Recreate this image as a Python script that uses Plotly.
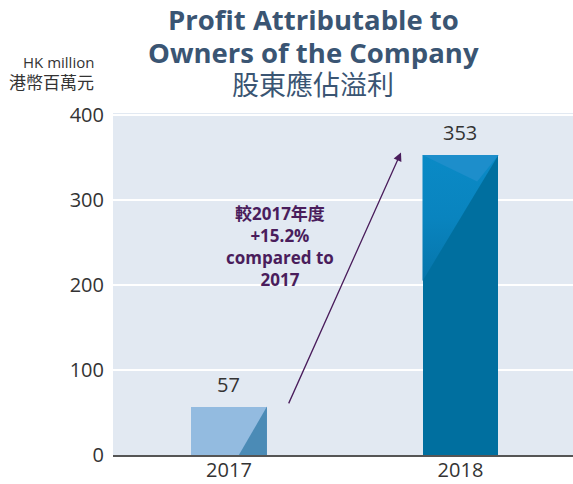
import plotly.graph_objects as go

years = ["2017", "2018"]
profit = [57, 353]
change_label = "較2017年度<br>+15.2%<br>compared to<br>2017"
title_lines = ["Profit Attributable to", "Owners of the Company", "股東應佔溢利"]
unit_lines = ["HK million", "港幣百萬元"]
y_ticks = [0, 100, 200, 300, 400]

pos = list(range(len(years)))
bw = 0.328
FONT = "Open Sans, Noto Sans CJK TC, sans-serif"
CJK = "Noto Sans CJK TC, Noto Sans, sans-serif"

fig = go.Figure()
base_colors = ["#93bbe0", "#006f9f"]
fig.add_trace(go.Bar(x=pos, y=profit, width=bw, marker=dict(color=base_colors, line=dict(width=0)),
                     hoverinfo="skip", showlegend=False))

# 2017 shading triangle (bottom-right darker)
x0, v0 = pos[0], profit[0]
l0, r0 = x0 - bw / 2, x0 + bw / 2
fig.add_trace(go.Scatter(x=[l0 + 0.63 * bw, r0, r0, l0 + 0.63 * bw], y=[0, 0, v0, 0], fill="toself",
                         fillcolor="#4b8bb6", line=dict(width=0), mode="lines", hoverinfo="skip", showlegend=False))
# 2018 light upper-left region
x1, v1 = pos[1], profit[1]
l1, r1 = x1 - bw / 2, x1 + bw / 2
fig.add_trace(go.Scatter(x=[l1, r1, l1, l1], y=[v1, v1, v1 * 0.58, v1], fill="toself",
                         fillgradient=dict(type="vertical", colorscale=[[0, "#0675aa"], [0.5, "#0984bf"], [1, "#0a8ac6"]]),
                         line=dict(width=0), mode="lines", hoverinfo="skip", showlegend=False))
fig.add_trace(go.Scatter(x=[l1, r1, l1 + 0.72 * bw, l1], y=[v1, v1, v1 * 0.912, v1], fill="toself",
                         fillcolor="#1d8ecb", line=dict(width=0), mode="lines", hoverinfo="skip", showlegend=False))

ann = []
for p, v in zip(pos, profit):
    ann.append(dict(x=p, y=v, xref="x", yref="y", text=str(v), showarrow=False, yanchor="bottom", yshift=7,
                    font=dict(family=FONT, size=20, color="#333333")))
# arrow
ann.append(dict(x=0.743, y=356, ax=0.255, ay=59, xref="x", yref="y", axref="x", ayref="y", text="",
                showarrow=True, arrowhead=2, arrowsize=1.3, arrowwidth=1.3, arrowcolor="#4a1d5c"))
ann.append(dict(x=0.22, y=245, xref="x", yref="y", text=change_label, showarrow=False,
                font=dict(family=FONT, size=17, color="#4a1d5c", weight="bold"), align="center"))
# title
title_y = [1.272, 1.178, 1.087]
for i, (t, yy) in enumerate(zip(title_lines, title_y)):
    ann.append(dict(x=0.435, y=yy, xref="paper", yref="paper", text=t if i == 2 else "<b>" + t + "</b>",
                    showarrow=False, xanchor="center", yanchor="middle",
                    font=dict(family=CJK if i == 2 else FONT, size=27 if i == 2 else 27.5, color="#3a5573")))
for t, yy in zip(unit_lines, [1.149, 1.091]):
    ann.append(dict(x=-0.037, y=yy, xref="paper", yref="paper", text=t, showarrow=False,
                    xanchor="right", yanchor="middle",
                    font=dict(family=FONT if t.isascii() else CJK, size=15 if t.isascii() else 17, color="#333333")))

fig.update_layout(
    width=573, height=484, margin=dict(l=113, r=0, t=113, b=29, autoexpand=False),
    paper_bgcolor="white", plot_bgcolor="#e2e9f2", bargap=0,
    annotations=ann, showlegend=False,
    xaxis=dict(range=[-0.501, 1.486], tickvals=pos, ticktext=years, showgrid=False, zeroline=False,
               showline=True, linecolor="#555555", linewidth=2, ticks="", automargin=False,
               ticklabelstandoff=-4,
               tickfont=dict(family=FONT, size=20, color="#333333")),
    yaxis=dict(range=[0, 402.4], tickvals=y_ticks, showgrid=True, gridcolor="white", gridwidth=1.5,
               zeroline=False, showline=False, ticks="outside", ticklen=4, tickcolor="rgba(0,0,0,0)",
               automargin=False, tickfont=dict(family=FONT, size=20, color="#333333")),
)
fig.write_html("out.html", config={"displayModeBar": False},
               post_script="document.body.style.margin='0';")
